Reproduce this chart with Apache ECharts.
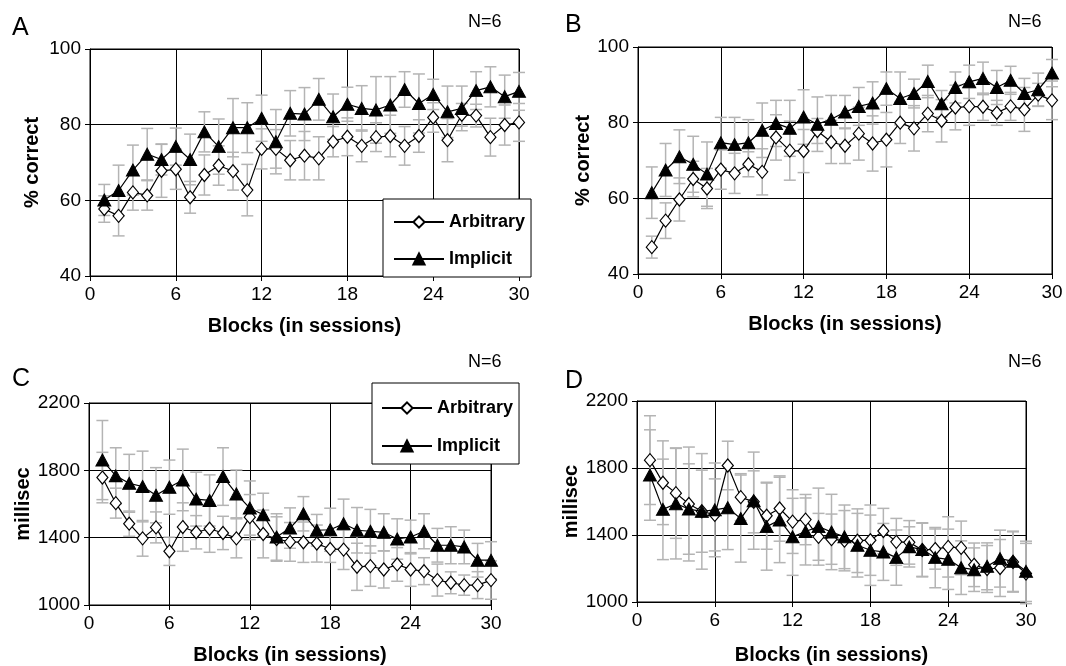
<!DOCTYPE html>
<html>
<head>
<meta charset="utf-8">
<script src="https://cdn.jsdelivr.net/npm/echarts@6/dist/echarts.min.js"></script>
<style>
  html, body { margin: 0; padding: 0; background: #fff; }
  #chart { width: 1066px; height: 666px; }
</style>
</head>
<body>
<div id="chart"></div>
<script>
// blocks 1..30
const blocks = [1,2,3,4,5,6,7,8,9,10,11,12,13,14,15,16,17,18,19,20,21,22,23,24,25,26,27,28,29,30];
const xTicks = [0, 6, 12, 18, 24, 30];

// panel A: % correct
const aArb    = [57.7,55.9,62.1,61.3,67.8,68.2,60.8,66.7,69.2,67.7,62.7,73.6,73.6,70.6,71.8,71.1,75.5,76.8,74.4,76.7,77.0,74.4,77.0,81.9,75.9,82.6,82.4,76.7,79.9,80.6];
const aArbErr = [3.5,5.3,4.7,3.9,7.0,5.3,4.2,5.3,5.2,5.0,6.8,5.3,5.1,5.2,6.4,5.7,4.0,5.0,4.2,3.8,5.5,5.1,4.3,3.9,5.7,3.0,3.0,5.0,5.3,5.0];
const aImp    = [60.1,62.6,68.0,72.2,70.8,74.2,70.8,78.1,74.2,79.2,79.2,81.7,75.5,83.0,82.8,86.7,82.1,85.4,84.3,83.9,85.2,89.3,85.6,88.0,83.4,84.3,89.0,90.0,87.4,88.8];
const aImpErr = [4.1,6.7,6.6,6.8,4.1,4.9,6.7,5.3,7.3,7.7,6.6,6.1,8.5,6.0,7.0,5.5,6.0,4.5,6.0,8.8,7.5,4.7,7.8,4.0,6.8,5.9,5.0,5.3,5.7,5.0];

// panel B: % correct
const bArb    = [47.1,54.1,59.7,65.1,62.6,67.6,66.6,69.0,67.0,76.1,72.6,72.5,77.8,74.9,73.9,77.1,74.5,75.5,80.0,78.5,82.4,80.5,84.0,84.3,84.2,82.6,84.3,83.5,87.4,85.9];
const bArbErr = [2.9,4.7,5.7,4.7,5.3,5.2,5.3,3.3,6.1,6.0,7.8,5.7,3.3,5.7,4.7,7.0,7.3,7.2,5.5,6.0,4.8,5.6,5.9,5.0,3.6,3.3,3.7,5.8,3.0,5.1];
const bImp    = [61.5,67.5,71.0,69.0,66.4,74.7,74.2,74.7,78.0,79.8,78.5,81.5,79.6,80.9,82.8,84.3,85.2,89.0,86.4,87.7,90.9,85.0,89.3,90.8,91.7,89.3,91.2,87.7,88.7,93.1];
const bImpErr = [6.8,7.0,7.1,7.4,8.5,6.7,7.2,6.1,7.2,6.1,7.4,7.2,7.2,6.3,4.4,5.0,5.6,4.4,7.0,3.8,4.3,3.5,4.1,4.4,4.3,4.5,3.7,4.0,4.4,3.6];

// panel C: millisec
const cArb    = [1757,1605,1483,1396,1461,1319,1463,1432,1453,1428,1396,1522,1422,1392,1375,1373,1365,1333,1329,1227,1231,1211,1241,1211,1201,1148,1132,1118,1118,1148];
const cArbErr = [150,89,75,106,92,84,144,99,140,99,116,134,142,132,115,120,110,80,118,140,120,110,100,100,80,95,65,60,80,114];
const cImp    = [1861,1767,1723,1704,1652,1700,1743,1629,1621,1763,1660,1576,1536,1404,1457,1542,1444,1447,1483,1444,1438,1432,1392,1404,1438,1355,1355,1345,1266,1266];
const cImpErr = [235,167,172,210,164,161,183,160,152,171,142,161,128,138,120,102,94,128,146,135,130,110,120,100,104,100,110,100,100,110];

// panel D: millisec
const dArb    = [1847,1712,1650,1585,1542,1520,1815,1626,1598,1515,1558,1480,1492,1389,1375,1366,1366,1369,1424,1359,1356,1310,1316,1329,1323,1222,1197,1203,1239,1170];
const dArbErr = [265,250,270,340,245,215,145,140,185,200,195,190,150,140,150,180,190,210,135,140,130,160,120,180,160,130,140,170,180,180];
const dImp    = [1758,1553,1587,1555,1541,1550,1563,1498,1605,1450,1490,1389,1421,1450,1418,1389,1339,1309,1299,1265,1329,1313,1265,1255,1205,1193,1213,1259,1243,1183];
const dImpErr = [270,300,330,270,345,280,250,260,290,260,255,230,200,230,225,190,190,210,170,165,120,160,180,180,160,130,140,170,180,180];

const font = "'Liberation Sans', Arial, Helvetica, sans-serif";

const chart = echarts.init(document.getElementById('chart'));

// panel layout: grid box, label gaps
const panels = [
  { left: 90,  top: 49,  width: 429, height: 227, ymin: 40,   ymax: 100,  yint: 20,  yname: '% correct', ygap: 48, xgap: 40, arb: aArb, arbErr: aArbErr, imp: aImp, impErr: aImpErr },
  { left: 638, top: 47,  width: 414, height: 227, ymin: 40,   ymax: 100,  yint: 20,  yname: '% correct', ygap: 44, xgap: 40, arb: bArb, arbErr: bArbErr, imp: bImp, impErr: bImpErr },
  { left: 89,  top: 403, width: 402, height: 203, ymin: 1000, ymax: 2200, yint: 400, yname: 'millisec',  ygap: 55, xgap: 40, arb: cArb, arbErr: cArbErr, imp: cImp, impErr: cImpErr },
  { left: 637, top: 401, width: 389, height: 201, ymin: 1000, ymax: 2200, yint: 400, yname: 'millisec',  ygap: 54, xgap: 43, arb: dArb, arbErr: dArbErr, imp: dImp, impErr: dImpErr }
];

function errorBars(idx, ys, es) {
  return {
    type: 'custom',
    xAxisIndex: idx,
    yAxisIndex: idx,
    z: 1,
    silent: true,
    animation: false,
    data: blocks.map((b, i) => [b, ys[i] - es[i], ys[i] + es[i]]),
    renderItem: function (params, api) {
      const lo = api.coord([api.value(0), api.value(1)]);
      const hi = api.coord([api.value(0), api.value(2)]);
      const w = 6;
      const st = { stroke: '#b4b4b4', lineWidth: 1.5 };
      return {
        type: 'group',
        children: [
          { type: 'line', shape: { x1: lo[0], y1: lo[1], x2: hi[0], y2: hi[1] }, style: st },
          { type: 'line', shape: { x1: lo[0] - w, y1: lo[1], x2: lo[0] + w, y2: lo[1] }, style: st },
          { type: 'line', shape: { x1: hi[0] - w, y1: hi[1], x2: hi[0] + w, y2: hi[1] }, style: st }
        ]
      };
    }
  };
}

function lineSeries(idx, name, ys, isArb) {
  return {
    type: 'line',
    name: name,
    xAxisIndex: idx,
    yAxisIndex: idx,
    z: isArb ? 3 : 4,
    animation: false,
    showAllSymbol: true,
    data: blocks.map((b, i) => [b, ys[i]]),
    symbol: isArb ? 'diamond' : 'triangle',
    symbolSize: isArb ? [11, 13] : [13, 12],
    lineStyle: { color: '#000', width: 1.2 },
    itemStyle: isArb
      ? { color: '#fff', borderColor: '#000', borderWidth: 1.2 }
      : { color: '#000', borderColor: '#000', borderWidth: 1 }
  };
}

const grids = [], xAxes = [], yAxes = [], series = [];
panels.forEach((p, i) => {
  grids.push({ left: p.left, top: p.top, width: p.width, height: p.height, show: true, borderColor: '#000', borderWidth: 1, backgroundColor: 'transparent' });
  xAxes.push({
    gridIndex: i, type: 'value', min: xTicks[0], max: xTicks[xTicks.length - 1], interval: 6,
    axisLine: { lineStyle: { color: '#000', width: 1 } },
    axisTick: { show: true, length: 5, lineStyle: { color: '#000' } },
    splitLine: { show: true, lineStyle: { color: '#000', width: 1 } },
    axisLabel: { color: '#000', fontSize: 19, fontFamily: font, margin: 9 },
    name: 'Blocks (in sessions)', nameLocation: 'middle', nameGap: p.xgap,
    nameTextStyle: { color: '#000', fontSize: 20, fontWeight: 'bold', fontFamily: font }
  });
  yAxes.push({
    gridIndex: i, type: 'value', min: p.ymin, max: p.ymax, interval: p.yint,
    axisLine: { show: true, lineStyle: { color: '#000', width: 1 } },
    axisTick: { show: true, length: 5, lineStyle: { color: '#000' } },
    splitLine: { show: true, lineStyle: { color: '#000', width: 1 } },
    axisLabel: { color: '#000', fontSize: 19, fontFamily: font, margin: 9, formatter: v => String(v) },
    name: p.yname, nameLocation: 'middle', nameGap: p.ygap,
    nameTextStyle: { color: '#000', fontSize: 20, fontWeight: 'bold', fontFamily: font }
  });
  series.push(errorBars(i, p.arb, p.arbErr));
  series.push(errorBars(i, p.imp, p.impErr));
  series.push(lineSeries(i, 'Arbitrary', p.arb, true));
  series.push(lineSeries(i, 'Implicit', p.imp, false));
});

function legendAt(left, top, padding, gap) {
  return {
    data: ['Arbitrary', 'Implicit'],
    orient: 'vertical',
    left: left, top: top,
    itemWidth: 50, itemHeight: 14, itemGap: gap,
    backgroundColor: '#fff', borderColor: '#000', borderWidth: 1, borderRadius: 0,
    padding: padding,
    selectedMode: false,
    textStyle: { color: '#000', fontSize: 18, fontWeight: 'bold', fontFamily: font, lineHeight: 20 }
  };
}

function label(text, x, y, size) {
  return {
    type: 'text', x: x, y: y,
    style: { text: text, fill: '#000', font: size + 'px ' + font, textVerticalAlign: 'middle', textAlign: 'left' }
  };
}

chart.setOption({
  backgroundColor: '#fff',
  animation: false,
  grid: grids,
  xAxis: xAxes,
  yAxis: yAxes,
  series: series,
  legend: [
    legendAt(383, 199, [13, 6, 8, 10], 17),
    legendAt(372, 383, [15, 6, 8, 9], 18)
  ],
  graphic: [
    label('A', 12, 28, 25), label('B', 565, 25, 25),
    label('C', 12, 379, 25), label('D', 565, 381, 25),
    label('N=6', 468, 22, 18), label('N=6', 1008, 22, 18),
    label('N=6', 468, 362, 18), label('N=6', 1008, 362, 18)
  ]
});
</script>
</body>
</html>
